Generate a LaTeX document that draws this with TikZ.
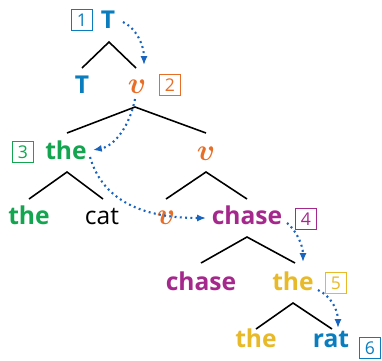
\documentclass[tikz,border=0pt]{standalone}
\usepackage{fontspec}
\setmainfont{Open Sans}
\usetikzlibrary{arrows.meta}
\definecolor{cblue}{RGB}{10,125,190}
\definecolor{corange}{RGB}{232,110,40}
\definecolor{cgreen}{RGB}{20,165,80}
\definecolor{cpurple}{RGB}{165,40,140}
\definecolor{cyellow}{RGB}{232,185,40}
\definecolor{carrow}{RGB}{25,100,190}
\tikzset{
    word/.style={anchor=base, inner sep=0pt, font=\fontsize{14}{16}\selectfont\bfseries},
    plain/.style={anchor=base, inner sep=0pt, font=\fontsize{14}{16}\selectfont},
    vee/.style={anchor=base, inner sep=0pt, text=corange, font=\fontsize{16}{19}\selectfont\boldmath},
    num/.style={draw, line width=1.1pt, minimum size=0.42cm, inner sep=0pt, font=\fontsize{10}{12}\selectfont},
    branch/.style={line width=0.9pt},
    probe/.style={carrow, line width=1.2pt, dash pattern=on 1.1pt off 1.9pt, -{Latex[length=5pt,width=4pt]}}
}
\begin{document}
\begin{tikzpicture}[x=0.02cm, y=-0.02cm]
    \useasboundingbox (0,0) rectangle (382,360);
    % words
    \node [word, text=cblue] (ttop) at (108,28) {T};
    \node [word, text=cblue] (tlow) at (82,93) {T};
    \node [vee] (v1) at (137,93) {$v$};
    \node [word, text=cgreen] (the1) at (66,159) {the};
    \node [vee] (v2) at (206,160) {$v$};
    \node [word, text=cgreen] (the2) at (29,224) {the};
    \node [plain] (cat) at (102,224) {cat};
    \node [vee] (v3) at (166,224) {$v$};
    \node [word, text=cpurple] (chase1) at (247,224) {chase};
    \node [word, text=cpurple] (chase2) at (201,290) {chase};
    \node [word, text=cyellow] (the3) at (293,290) {the};
    \node [word, text=cyellow] (the4) at (256,347) {the};
    \node [word, text=cblue] (rat) at (331,347) {rat};
    % order boxes
    \node [num, cblue] (n1) at (82,20) {1};
    \node [num, corange] (n2) at (170,85) {2};
    \node [num, cgreen] (n3) at (23,152) {3};
    \node [num, cpurple] (n4) at (306,219) {4};
    \node [num, cyellow] (n5) at (336,283) {5};
    \node [num, cblue] (n6) at (370,348) {6};
    % branches
    \coordinate (a1) at (109,42);
    \coordinate (a2) at (135,107);
    \coordinate (a3) at (67,172);
    \coordinate (a4) at (206,172);
    \coordinate (a5) at (247,237);
    \coordinate (a6) at (293,303);
    \draw [branch] (82,68) -- (a1) -- (136,68);
    \draw [branch] (67,133) -- (a2) -- (206,133);
    \draw [branch] (29,199) -- (a3) -- (103,199);
    \draw [branch] (166,199) -- (a4) -- (247,199);
    \draw [branch] (201,263) -- (a5) -- (295,263);
    \draw [branch] (256,329) -- (a6) -- (332,329);
    % probes
    \coordinate (p1) at (144,65);
    \coordinate (p2) at (93,150);
    \coordinate (p3) at (206,218);
    \coordinate (p4) at (303,262);
    \coordinate (p5) at (338,328);
    \draw [probe] (123,22) .. controls (136,28) and (144,45) .. (p1);
    \draw [probe] (135,99) .. controls (130,125) and (115,146) .. (p2);
    \draw [probe] (90,157) .. controls (104,205) and (150,218) .. (p3);
    \draw [probe] (287,223) .. controls (296,230) and (303,245) .. (p4);
    \draw [probe] (318,290) .. controls (331,296) and (338,310) .. (p5);
\end{tikzpicture}
\end{document}
